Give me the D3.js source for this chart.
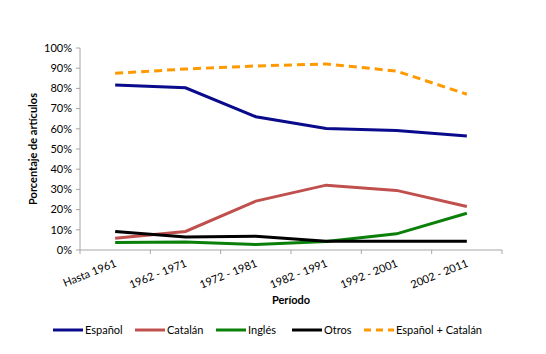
<!DOCTYPE html>
<html>
<head>
<meta charset="utf-8">
<script src="https://cdn.jsdelivr.net/npm/d3@7"></script>
<style>
  body { margin: 0; background: #fff; }
  text { font-family: Lato, "Open Sans", sans-serif; fill: #000; }
</style>
</head>
<body>
<div id="chart"></div>
<script>
var periodos = ['Hasta 1961', '1962 - 1971', '1972 - 1981', '1982 - 1991', '1992 - 2001', '2002 - 2011'];
var espanol = [81.7, 80.3, 66.0, 60.2, 59.2, 56.4];
var catalan = [5.8, 9.2, 24.2, 32.1, 29.5, 21.5];
var ingles = [3.7, 3.9, 2.7, 4.2, 8.0, 18.2];
var otros = [9.2, 6.4, 6.8, 4.3, 4.3, 4.3];
var espCat = [87.5, 89.6, 91.1, 92.1, 88.6, 77.1];
var yTicks = [0, 10, 20, 30, 40, 50, 60, 70, 80, 90, 100];

var series = [
    { name: 'Español', values: espanol, color: '#0a0a8c', dash: null },
    { name: 'Catalán', values: catalan, color: '#c0504d', dash: null },
    { name: 'Inglés', values: ingles, color: '#0a800a', dash: null },
    { name: 'Otros', values: otros, color: '#000000', dash: null },
    { name: 'Español + Catalán', values: espCat, color: '#ff9900', dash: '8,5' }
];

var width = 546, height = 354;
var margin = { top: 48, left: 80, right: 44, bottom: 104 };

var svg = d3.select('#chart').append('svg')
    .attr('width', width)
    .attr('height', height);

var x = d3.scaleBand()
    .domain(periodos)
    .range([margin.left, width - margin.right]);

var y = d3.scaleLinear()
    .domain([0, 100])
    .range([height - margin.bottom, margin.top]);

// eje y
svg.append('line')
    .attr('x1', margin.left).attr('x2', margin.left)
    .attr('y1', y(0)).attr('y2', y(100))
    .attr('stroke', '#a6a6a6');

svg.selectAll('.ytick')
    .data(yTicks)
    .enter()
    .append('line')
    .attr('x1', margin.left - 4).attr('x2', margin.left)
    .attr('y1', function (d) { return y(d); })
    .attr('y2', function (d) { return y(d); })
    .attr('stroke', '#a6a6a6');

svg.selectAll('.ylabel')
    .data(yTicks)
    .enter()
    .append('text')
    .attr('x', margin.left - 8)
    .attr('y', function (d) { return y(d); })
    .attr('dy', '0.35em')
    .attr('text-anchor', 'end')
    .style('font-size', '11px')
    .text(function (d) { return d + '%'; });

// eje x
svg.append('line')
    .attr('x1', margin.left).attr('x2', width - margin.right)
    .attr('y1', y(0)).attr('y2', y(0))
    .attr('stroke', '#a6a6a6');

var bounds = periodos.map(function (d) { return x(d); }).concat([width - margin.right]);
svg.selectAll('.xtick')
    .data(bounds)
    .enter()
    .append('line')
    .attr('x1', function (d) { return d; })
    .attr('x2', function (d) { return d; })
    .attr('y1', y(0)).attr('y2', y(0) + 4)
    .attr('stroke', '#a6a6a6');

svg.selectAll('.xlabel')
    .data(periodos)
    .enter()
    .append('text')
    .attr('text-anchor', 'end')
    .style('font-size', '11px')
    .attr('transform', function (d) {
        return 'translate(' + (x(d) + x.bandwidth() / 2 + 2) + ',' + (y(0) + 16) + ') rotate(-22)';
    })
    .text(function (d) { return d; });

// titulos
svg.append('text')
    .attr('x', (margin.left + width - margin.right) / 2)
    .attr('y', 304)
    .attr('text-anchor', 'middle')
    .style('font-size', '11px')
    .style('font-weight', 'bold')
    .text('Período');

svg.append('text')
    .attr('transform', 'translate(37,' + (y(50)) + ') rotate(-90)')
    .attr('text-anchor', 'middle')
    .style('font-size', '11px')
    .style('font-weight', 'bold')
    .text('Porcentaje de artículos');

// lineas
var line = d3.line()
    .x(function (d, i) { return x(periodos[i]) + x.bandwidth() / 2; })
    .y(function (d) { return y(d); });

svg.selectAll('.serie')
    .data(series)
    .enter()
    .append('path')
    .attr('fill', 'none')
    .attr('stroke', function (d) { return d.color; })
    .attr('stroke-width', 3)
    .attr('stroke-dasharray', function (d) { return d.dash; })
    .attr('d', function (d) { return line(d.values); });

// leyenda
var legendX = [53, 135, 216, 292, 364];
var legend = svg.selectAll('.legend')
    .data(series)
    .enter()
    .append('g')
    .attr('transform', function (d, i) { return 'translate(' + legendX[i] + ',330)'; });

legend.append('line')
    .attr('x1', 0).attr('x2', 30)
    .attr('stroke', function (d) { return d.color; })
    .attr('stroke-width', 3)
    .attr('stroke-dasharray', function (d) { return d.dash ? '7,5' : null; });

legend.append('text')
    .attr('x', 32)
    .attr('dy', '0.35em')
    .style('font-size', '11px')
    .text(function (d) { return d.name; });
</script>
</body>
</html>
